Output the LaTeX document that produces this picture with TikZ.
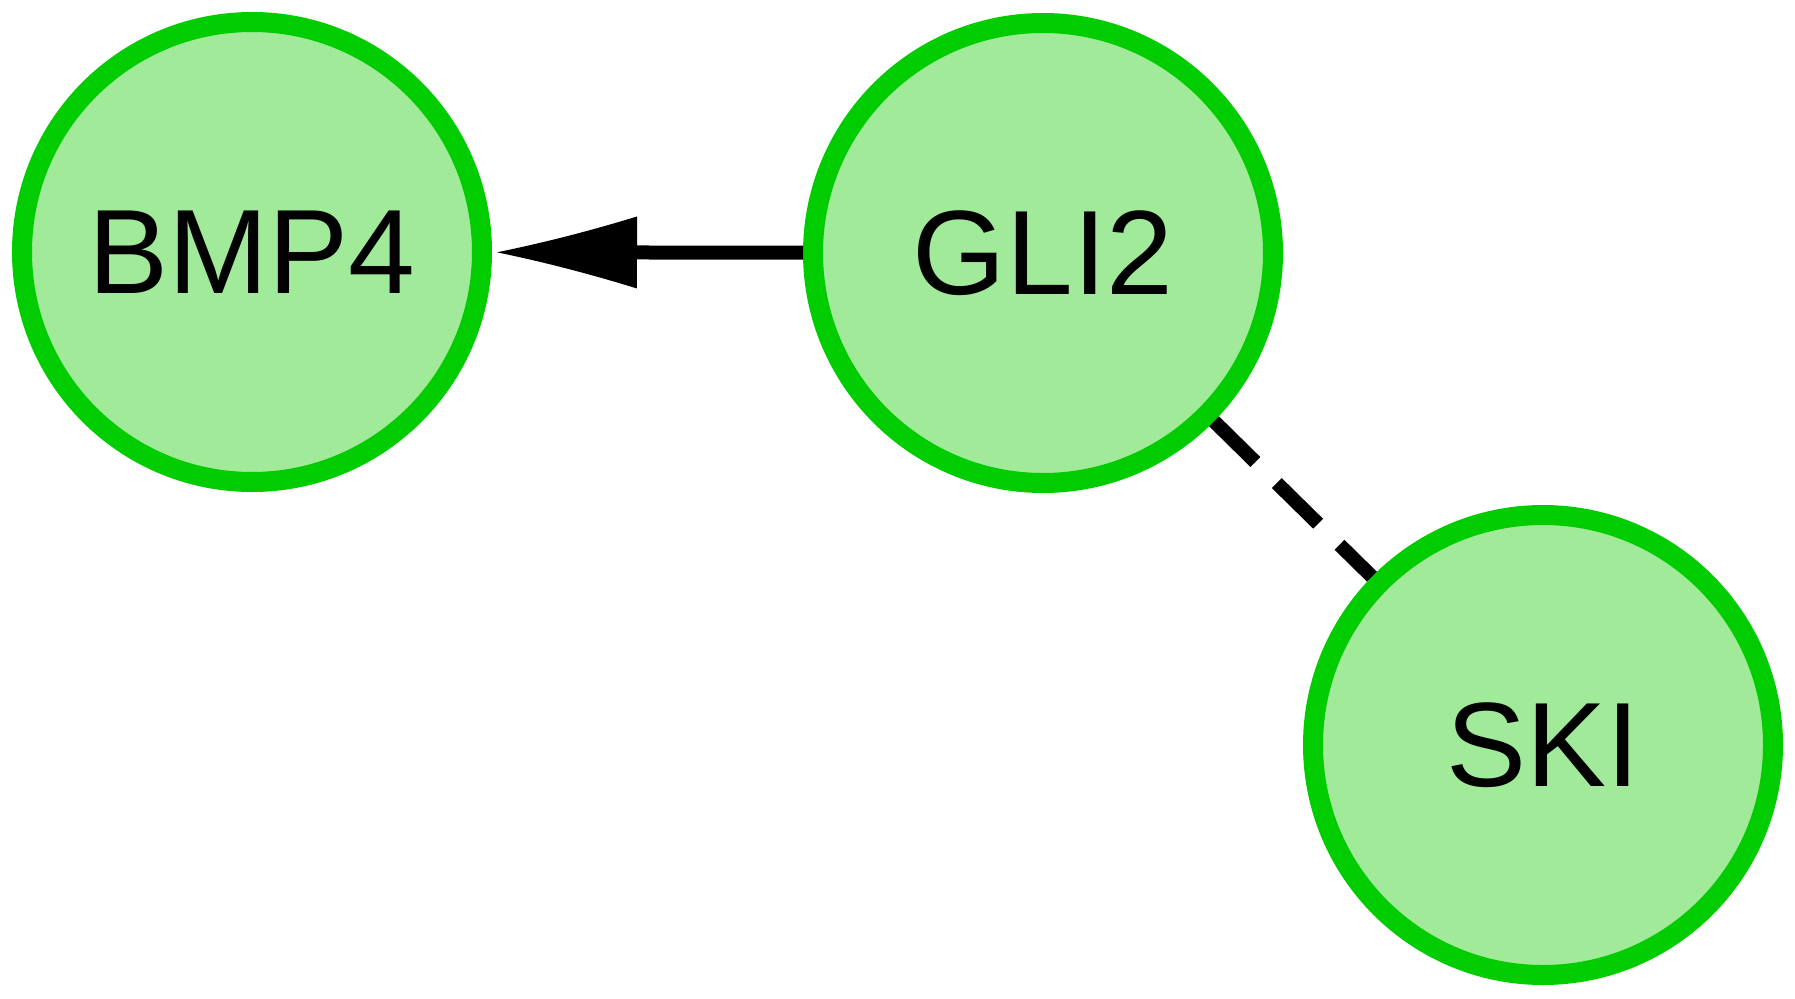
\documentclass[tikz,border=0pt]{standalone}
\usepackage{fontspec}
\setmainfont{Liberation Sans}
\usetikzlibrary{arrows.meta}
\definecolor{ringgreen}{HTML}{00CC00}
\definecolor{fillgreen}{HTML}{A0EA9A}
\makeatletter
\pgfdeclarearrow{
  name = Concave,
  parameters = {\the\pgfarrowlength,\the\pgfarrowwidth},
  setup code = {
    \pgfarrowssettipend{0pt}
    \pgfarrowssetbackend{-\pgfarrowlength}
    \pgfarrowssetlineend{-0.6\pgfarrowlength}
    \pgfarrowssavethe\pgfarrowlength
    \pgfarrowssavethe\pgfarrowwidth
  },
  drawing code = {
    \pgfpathmoveto{\pgfpointorigin}
    \pgfpathquadraticcurveto{\pgfpoint{-0.5\pgfarrowlength}{0.2\pgfarrowwidth}}{\pgfpoint{-\pgfarrowlength}{0.5\pgfarrowwidth}}
    \pgfpathlineto{\pgfpoint{-\pgfarrowlength}{-0.5\pgfarrowwidth}}
    \pgfpathquadraticcurveto{\pgfpoint{-0.5\pgfarrowlength}{-0.2\pgfarrowwidth}}{\pgfpointorigin}
    \pgfpathclose
    \pgfusepathqfill
  },
  defaults = {length = 140pt, width = 72pt}
}
\makeatother
\tikzset{
  gene/.style={circle, draw=ringgreen, fill=fillgreen, line width=20pt,
    minimum size=460pt, inner sep=0pt, font=\fontsize{120}{125}\selectfont},
  activates/.style={line width=14pt, -{Concave}, shorten >=5pt},
  binds/.style={line width=14pt, dash pattern=on 58pt off 30pt}
}
\begin{document}
\begin{tikzpicture}[x=1pt,y=-1pt]
\useasboundingbox (0,0) rectangle (1795,998);
\node[gene] (bmp) at (252,252) {\raisebox{-3pt}{BMP4}};
\node[gene] (gli) at (1043,253) {\raisebox{-3pt}{GLI2}};
\node[gene] (ski) at (1543,745) {\raisebox{-3pt}{SKI}};
\draw[activates] (gli) -- (bmp);
\draw[binds] (gli) -- (ski);
\end{tikzpicture}
\end{document}
